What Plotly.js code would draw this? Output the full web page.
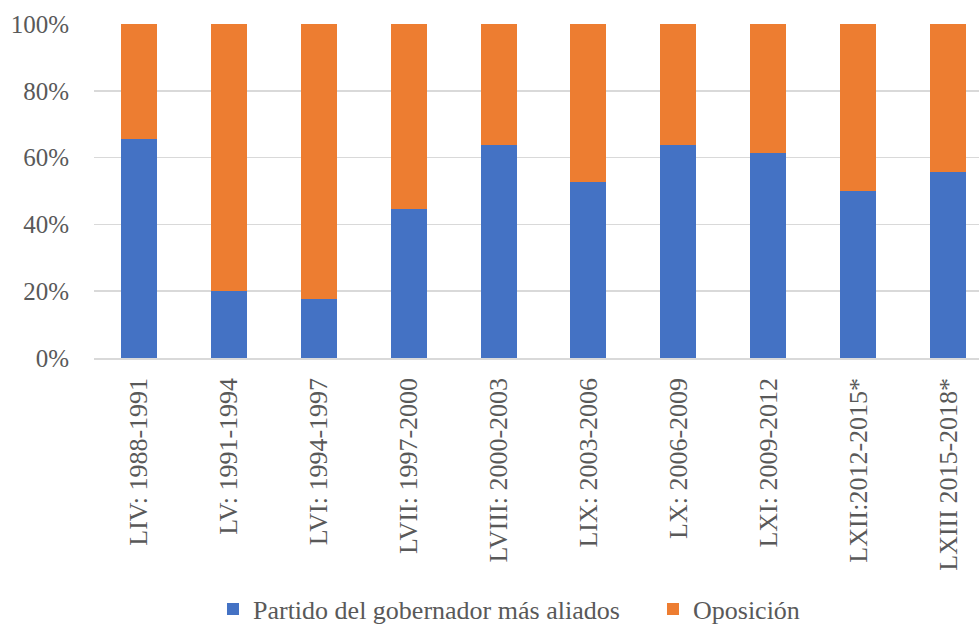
<!DOCTYPE html>
<html>
<head>
<meta charset="utf-8">
<script src="https://cdn.plot.ly/plotly-3.0.1.min.js"></script>
<style>
  html, body { margin: 0; padding: 0; background: #ffffff; }
  #chart { width: 979px; height: 626px; }
</style>
</head>
<body>
<div id="chart"></div>
<script>
// Legislaturas y su periodo
const legislaturas = [
  'LIV: 1988-1991',
  'LV: 1991-1994',
  'LVI: 1994-1997',
  'LVII: 1997-2000',
  'LVIII: 2000-2003',
  'LIX: 2003-2006',
  'LX: 2006-2009',
  'LXI: 2009-2012',
  'LXII:2012-2015*',
  'LXIII 2015-2018*'
];

// Porcentaje de escaños de cada bloque
const partidoGobernador = [65.6, 20.0, 17.8, 44.6, 63.9, 52.8, 63.9, 61.3, 50.0, 55.6];
const oposicion         = [34.4, 80.0, 82.2, 55.4, 36.1, 47.2, 36.1, 38.7, 50.0, 44.4];

const yTicks = [0, 20, 40, 60, 80, 100];
const yTickLabels = ['0%', '20%', '40%', '60%', '80%', '100%'];

const serif = 'Liberation Serif, Times New Roman, serif';
const textColor = '#595959';

const traces = [
  {
    type: 'bar',
    name: 'Partido del gobernador más aliados',
    x: legislaturas,
    y: partidoGobernador,
    marker: { color: '#4472C4' },
    width: 0.4
  },
  {
    type: 'bar',
    name: 'Oposición',
    x: legislaturas,
    y: oposicion,
    marker: { color: '#ED7D31' },
    width: 0.4
  }
];

const layout = {
  width: 979,
  height: 626,
  barmode: 'stack',
  paper_bgcolor: '#ffffff',
  plot_bgcolor: '#ffffff',
  margin: { l: 94, r: 0, t: 24, b: 268 },
  font: { family: serif, color: textColor, size: 26 },
  showlegend: true,
  xaxis: {
    type: 'category',
    range: [-0.5, 9.344],
    tickangle: -90,
    ticks: '',
    showgrid: false,
    showline: true,
    linecolor: '#d9d9d9',
    linewidth: 1.5,
    tickfont: { family: serif, size: 26, color: textColor },
    ticklabelstandoff: 8
  },
  yaxis: {
    range: [0, 100],
    tickmode: 'array',
    tickvals: yTicks,
    ticktext: yTickLabels,
    showgrid: true,
    gridcolor: '#d9d9d9',
    gridwidth: 1.5,
    zeroline: false,
    showline: false,
    ticks: '',
    tickfont: { family: serif, size: 25, color: textColor },
    ticklabelstandoff: 24
  },
  legend: {
    orientation: 'h',
    xref: 'container',
    yref: 'container',
    x: 0.667,
    y: 0.027,
    xanchor: 'center',
    yanchor: 'middle',
    font: { family: serif, size: 26, color: textColor },
    entrywidth: 395,
    entrywidthmode: 'pixels',
    traceorder: 'normal'
  }
};

Plotly.newPlot('chart', traces, layout, { displayModeBar: false, staticPlot: true });
</script>
</body>
</html>
